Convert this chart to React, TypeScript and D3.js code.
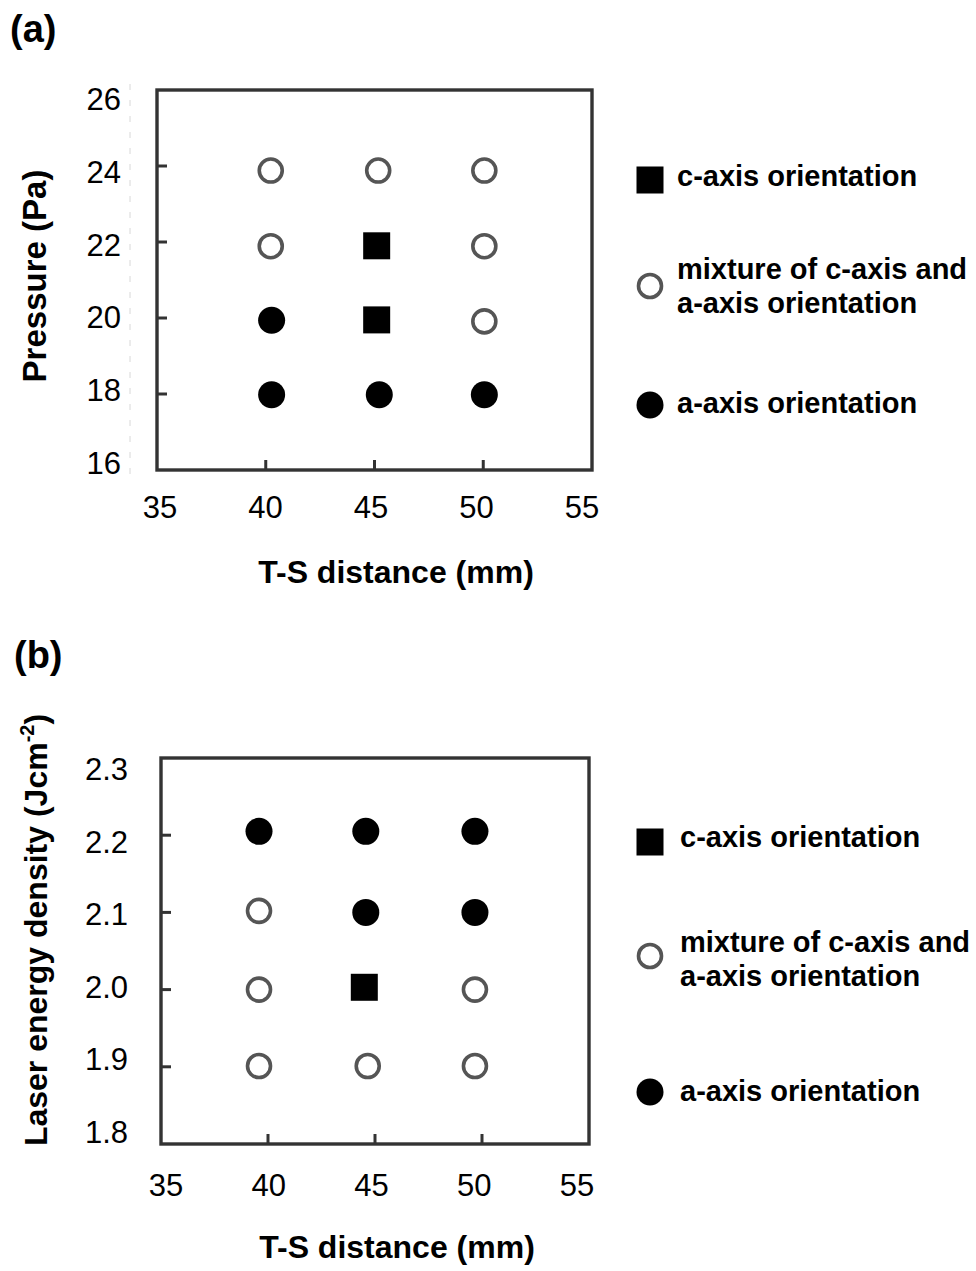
import React from "react";
import * as d3 from "d3";

// ---------- data ----------
type Kind = "c" | "mix" | "a";
interface Pt { x: number; y: number; k: Kind }

const panelAPoints: Pt[] = [
  { x: 45.1, y: 21.9, k: "c" },
  { x: 45.1, y: 19.95, k: "c" },
  { x: 40.23, y: 23.88, k: "mix" },
  { x: 45.17, y: 23.88, k: "mix" },
  { x: 50.05, y: 23.88, k: "mix" },
  { x: 40.23, y: 21.89, k: "mix" },
  { x: 50.05, y: 21.89, k: "mix" },
  { x: 50.05, y: 19.91, k: "mix" },
  { x: 40.27, y: 19.94, k: "a" },
  { x: 40.27, y: 17.98, k: "a" },
  { x: 45.22, y: 17.98, k: "a" },
  { x: 50.05, y: 17.98, k: "a" },
];

const panelBPoints: Pt[] = [
  { x: 44.5, y: 2.003, k: "c" },
  { x: 39.58, y: 2.102, k: "mix" },
  { x: 39.58, y: 2.0, k: "mix" },
  { x: 49.67, y: 2.0, k: "mix" },
  { x: 39.58, y: 1.901, k: "mix" },
  { x: 44.66, y: 1.901, k: "mix" },
  { x: 49.67, y: 1.901, k: "mix" },
  { x: 39.58, y: 2.205, k: "a" },
  { x: 44.57, y: 2.205, k: "a" },
  { x: 49.67, y: 2.205, k: "a" },
  { x: 44.57, y: 2.1, k: "a" },
  { x: 49.67, y: 2.1, k: "a" },
];

const xDomain = [35, 55];
const xTickLabels = [35, 40, 45, 50, 55];
const xTickMarks = [40, 45, 50];
const yDomainA = [16, 26];
const yTickLabelsA = [16, 18, 20, 22, 24, 26];
const yTickMarksA = [18, 20, 22, 24];
const yDomainB = [1.8, 2.3];
const yTickLabelsB = [1.8, 1.9, 2.0, 2.1, 2.2, 2.3];
const yTickMarksB = [1.9, 2.0, 2.1, 2.2];

const legendItems: { k: Kind; lines: string[] }[] = [
  { k: "c", lines: ["c-axis orientation"] },
  { k: "mix", lines: ["mixture of c-axis and", "a-axis orientation"] },
  { k: "a", lines: ["a-axis orientation"] },
];

const FONT = "'Liberation Sans', Arial, Helvetica, sans-serif";
const FRAME = "#333";
const RING = "#555";

function Marker({ k, cx, cy, s }: { k: Kind; cx: number; cy: number; s: number }) {
  if (k === "c")
    return <rect x={cx - s / 2} y={cy - s / 2} width={s} height={s} fill="#000" />;
  if (k === "mix")
    return <circle cx={cx} cy={cy} r={s / 2 - 2} fill="#fff" stroke={RING} strokeWidth={3.6} />;
  return <circle cx={cx} cy={cy} r={s / 2} fill="#000" />;
}

interface PanelProps {
  points: Pt[];
  x: d3.ScaleLinear<number, number>;
  y: d3.ScaleLinear<number, number>;
  xLab: d3.ScaleLinear<number, number>;
  yLab: d3.ScaleLinear<number, number>;
  yTickLabels: number[];
  yTickMarks: number[];
  yFmt: (v: number) => string;
  xLabBaseline: number;
  yLabRight: number;
  markerSize: number;
  dashedX?: number;
}

function Panel(p: PanelProps) {
  const [x0, x1] = p.x.range();
  const [y0, y1] = p.y.range();
  const top = Math.min(y0, y1);
  const bottom = Math.max(y0, y1);
  return (
    <g>
      {p.dashedX !== undefined && (
        <line x1={p.dashedX} x2={p.dashedX} y1={top - 6} y2={bottom + 6}
          stroke="#d8d8d8" strokeWidth={1} strokeDasharray="6,10" />
      )}
      <rect x={x0} y={top} width={x1 - x0} height={bottom - top}
        fill="#fff" stroke={FRAME} strokeWidth={3.4} />
      {xTickMarks.map((v) => (
        <line key={"xt" + v} x1={p.x(v)} x2={p.x(v)} y1={bottom} y2={bottom - 10}
          stroke={FRAME} strokeWidth={3} />
      ))}
      {p.yTickMarks.map((v) => (
        <line key={"yt" + v} x1={x0} x2={x0 + 10} y1={p.y(v)} y2={p.y(v)}
          stroke={FRAME} strokeWidth={3} />
      ))}
      {xTickLabels.map((v) => (
        <text key={"xl" + v} x={p.xLab(v)} y={p.xLabBaseline} textAnchor="middle"
          fontSize={31} fontFamily={FONT} fill="#000">{v}</text>
      ))}
      {p.yTickLabels.map((v) => (
        <text key={"yl" + v} x={p.yLabRight} y={p.yLab(v)} textAnchor="end"
          fontSize={31} fontFamily={FONT} fill="#000">{p.yFmt(v)}</text>
      ))}
      {p.points.map((d, i) => (
        <Marker key={i} k={d.k} cx={p.x(d.x)} cy={p.y(d.y)} s={p.markerSize} />
      ))}
    </g>
  );
}

function Legend({ mx, tx, markerY, baselines }: { mx: number; tx: number; markerY: number[]; baselines: number[][] }) {
  return (
    <g>
      {legendItems.map((it, i) => (
        <g key={i}>
          <Marker k={it.k} cx={mx} cy={markerY[i]} s={27} />
          {it.lines.map((l, j) => (
            <text key={j} x={tx} y={baselines[i][j]} fontSize={29} fontWeight="bold"
              fontFamily={FONT} fill="#000">{l}</text>
          ))}
        </g>
      ))}
    </g>
  );
}

export default function App() {
  const xA = d3.scaleLinear().domain(xDomain).range([157, 592]);
  const yA = d3.scaleLinear().domain(yDomainA).range([470, 90]);
  const xLabA = d3.scaleLinear().domain(xDomain).range([160, 582]);
  const yLabA = d3.scaleLinear().domain(yDomainA).range([474, 110]);

  const xB = d3.scaleLinear().domain(xDomain).range([161, 589]);
  const yB = d3.scaleLinear().domain(yDomainB).range([1144, 758]);
  const xLabB = d3.scaleLinear().domain(xDomain).range([166, 577]);
  const yLabB = d3.scaleLinear().domain(yDomainB).range([1143, 780]);

  return (
    <div style={{ position: "absolute", left: 0, top: 0 }}>
      <svg width={976} height={1271} style={{ display: "block", background: "#fff" }}>
        <rect width={976} height={1271} fill="#fff" />
        {/* panel (a) */}
        <text x={10} y={42} fontSize={38} fontWeight="bold" fontFamily={FONT}>(a)</text>
        <Panel points={panelAPoints} x={xA} y={yA} xLab={xLabA} yLab={yLabA}
          yTickLabels={yTickLabelsA} yTickMarks={yTickMarksA} yFmt={(v) => String(v)}
          xLabBaseline={518} yLabRight={121} markerSize={27} dashedX={130} />
        <text x={396} y={583} textAnchor="middle" fontSize={32} fontWeight="bold" fontFamily={FONT}>
          T-S distance (mm)
        </text>
        <text transform="translate(46,276) rotate(-90)" textAnchor="middle" fontSize={33}
          fontWeight="bold" fontFamily={FONT}>Pressure (Pa)</text>
        <Legend mx={650} tx={677} markerY={[180, 286, 405]}
          baselines={[[186], [279, 313], [413]]} />

        {/* panel (b) */}
        <text x={14} y={668} fontSize={38} fontWeight="bold" fontFamily={FONT}>(b)</text>
        <Panel points={panelBPoints} x={xB} y={yB} xLab={xLabB} yLab={yLabB}
          yTickLabels={yTickLabelsB} yTickMarks={yTickMarksB} yFmt={d3.format(".1f")}
          xLabBaseline={1196} yLabRight={128} markerSize={27} />
        <text x={397} y={1258} textAnchor="middle" fontSize={32} fontWeight="bold" fontFamily={FONT}>
          T-S distance (mm)
        </text>
        <text transform="translate(47,930) rotate(-90)" textAnchor="middle" fontSize={32}
          fontWeight="bold" fontFamily={FONT}>
          Laser energy density (Jcm
          <tspan fontSize={20} dy={-13}>-2</tspan>
          <tspan dy={13}>)</tspan>
        </text>
        <Legend mx={650} tx={680} markerY={[842, 956, 1092]}
          baselines={[[847], [952, 986], [1101]]} />
      </svg>
    </div>
  );
}
